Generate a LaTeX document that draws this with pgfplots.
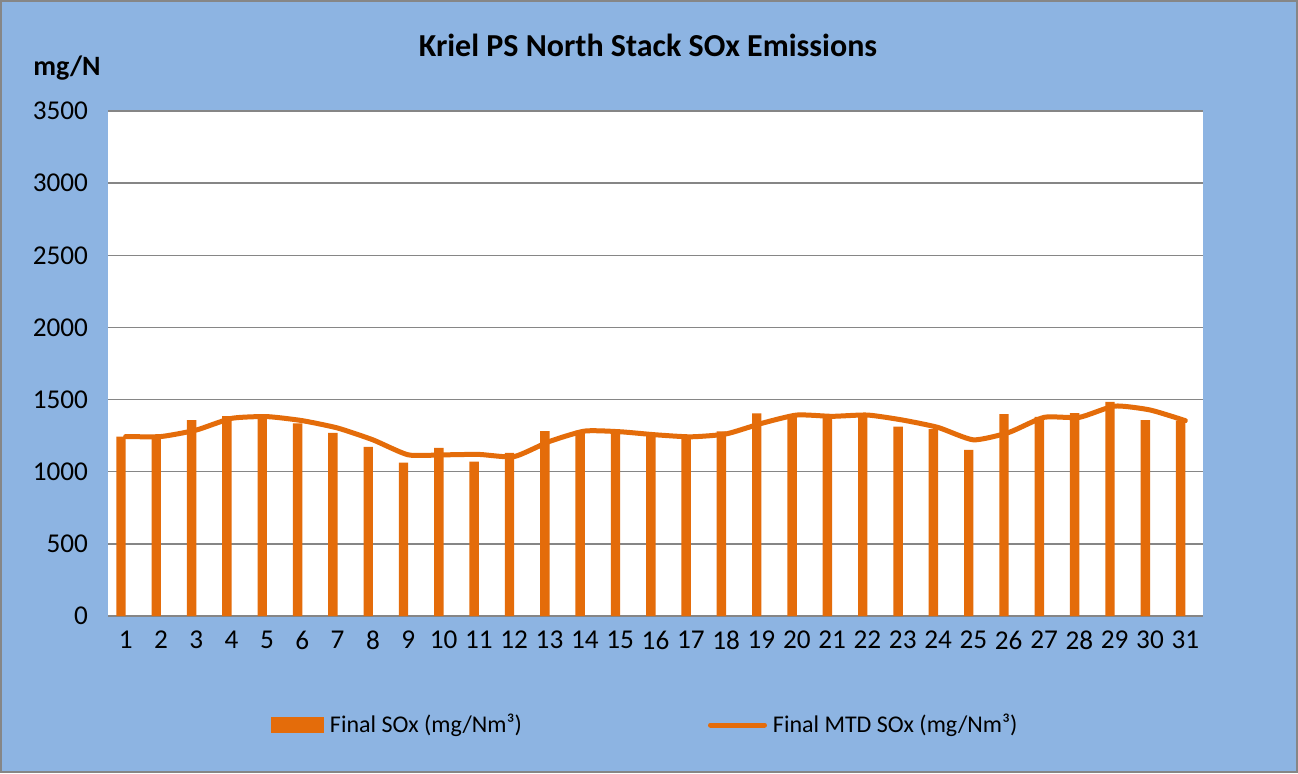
\documentclass[border=0pt]{standalone}
\usepackage{pgfplots}
\pgfplotsset{compat=1.18}
\usepackage{fontspec}
\setmainfont{Carlito}
\definecolor{bgblue}{RGB}{141,180,226}
\definecolor{sorange}{RGB}{228,108,10}
\definecolor{gridgray}{RGB}{134,134,134}
\begin{document}
\begin{tikzpicture}
\useasboundingbox (0,0) rectangle (649pt,-386.5pt);
\fill[bgblue, draw=gridgray, line width=1pt] (0.5pt,-0.5pt) rectangle (648.5pt,-386pt);
\node[font=\bfseries\fontsize{16}{18}\selectfont] at (324pt,-22.5pt) {Kriel PS North Stack SOx Emissions};
\node[font=\bfseries\fontsize{14}{16}\selectfont] at (33.5pt,-34pt) {mg/N};
\begin{axis}[
  at={(54pt,-308pt)}, anchor=south west,
  scale only axis, width=547.5pt, height=252.5pt,
  xmin=0.5, xmax=31.5, ymin=0, ymax=3500,
  ytick={0,500,...,3500}, xtick={1,...,31},
  ymajorgrids, grid style={gridgray, line width=0.75pt},
  axis line style={draw=none},
  major tick length=0pt,
  axis background/.style={fill=white},
  tick label style={font=\fontsize{13.6}{15}\selectfont, text=black},
  /pgf/number format/assume math mode=true,
  /pgf/number format/1000 sep={},
  yticklabel style={xshift=-6.5pt},
  xticklabel style={yshift=-4pt},
  legend columns=2,
  legend style={draw=none, fill=none, at={(0.143,-0.216)}, anchor=west,
    font=\fontsize{12}{14}\selectfont,
    /tikz/every even column/.append style={column sep=91pt},
    /tikz/every odd column/.append style={column sep=1pt}},
]
\addplot[ybar, bar width=4.7pt, bar shift=-2.35pt, fill=sorange, draw=none,
  legend image code/.code={\fill[sorange] (0pt,-4pt) rectangle (26.5pt,4pt);}]
coordinates {
(1,1244) (2,1245) (3,1358) (4,1385) (5,1390) (6,1335) (7,1270) (8,1172)
(9,1063) (10,1165) (11,1070) (12,1130) (13,1282) (14,1285) (15,1275) (16,1255)
(17,1240) (18,1280) (19,1405) (20,1395) (21,1385) (22,1400) (23,1312) (24,1296)
(25,1151) (26,1400) (27,1380) (28,1407) (29,1484) (30,1358) (31,1355)
};
\addlegendentry{Final SOx (mg/Nm³)}
\addplot[sorange, line width=2.5pt, smooth, tension=0.35, line join=round, line cap=round,
  legend image code/.code={\draw[sorange, line width=2.5pt, line cap=round] (0pt,0pt) -- (27pt,0pt);}]
coordinates {
(1,1244) (2,1244) (3,1289) (4,1370) (5,1382) (6,1354) (7,1303) (8,1221)
(9,1117) (10,1117) (11,1120) (12,1105) (13,1210) (14,1282) (15,1277) (16,1256)
(17,1242) (18,1262) (19,1335) (20,1393) (21,1384) (22,1393) (23,1358) (24,1307)
(25,1221) (26,1272) (27,1377) (28,1377) (29,1455) (30,1428) (31,1354)
};
\addlegendentry{Final MTD SOx (mg/Nm³)}
\end{axis}
\end{tikzpicture}
\end{document}
